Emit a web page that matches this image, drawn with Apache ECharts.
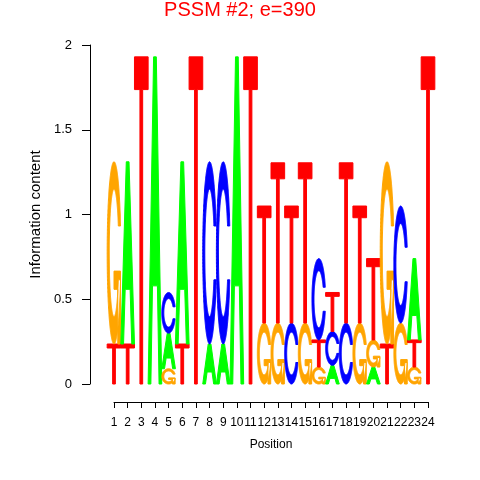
<!DOCTYPE html>
<html><head><meta charset="utf-8">
<script src="https://cdn.jsdelivr.net/npm/echarts@6/dist/echarts.min.js"></script>
<style>html,body{margin:0;padding:0;background:#fff}#c{width:480px;height:480px}</style>
</head><body><div id="c"></div>
<script>
// ---- data ----
const positions = [1,2,3,4,5,6,7,8,9,10,11,12,13,14,15,16,17,18,19,20,21,22,23,24];
const letters = ['A','C','G','T'];
const letterColors = ['#00FF00','#0000FF','#FFA500','#FF0000'];
const heightA = [0,1.075,0,1.93,0.21,1.075,0,0.236,0.236,1.93,0,0,0,0,0,0,0.11,0,0,0.1,0,0,0.48,0];
const heightC = [0,0,0,0,0.24,0,0,1.075,1.075,0,0,0,0,0.36,0,0.48,0.2,0.36,0,0,0,0.69,0,0];
const heightG = [1.075,0,0,0,0.09,0,0,0,0,0,0,0.36,0.36,0,0.36,0.1,0,0,0.36,0.16,1.075,0.36,0.1,0];
const heightT = [0.236,0.236,1.93,0,0,0.236,1.93,0,0,0,1.93,0.69,0.945,0.69,0.945,0.16,0.23,0.945,0.69,0.48,0.236,0,0.16,1.93];
const yTickValues = [0,0.5,1,1.5,2];
const titleText = 'PSSM #2; e=390';
const xName = 'Position';
const yName = 'Information content';

// ---- glyph outlines (unit box, y up) ----
function seq(a,b,n){const r=[];for(let i=0;i<n;i++)r.push(a+(b-a)*i/(n-1));return r;}
function ringC(){
  const a1=seq(0.3+Math.PI/2,Math.PI,100), a2=seq(Math.PI,1.5*Math.PI,100);
  const xl1=a1.map(a=>0.5+0.5*Math.sin(a)), yl1=a1.map(a=>0.5+0.5*Math.cos(a));
  const xl2=a2.map(a=>0.5+0.5*Math.sin(a)), yl2=a2.map(a=>0.5+0.5*Math.cos(a));
  const xl=xl1.concat(xl2), yl=yl1.concat(yl2);
  const x=xl.concat(xl.slice().reverse()), y=yl.concat(yl.slice().reverse().map(v=>1-v));
  const h=Math.max(...yl1);
  let xi1=a1.map(a=>0.5+0.35*Math.sin(a)), yi1=a1.map(a=>0.5+0.35*Math.cos(a));
  const keep=yi1.map(v=>v<=h);
  xi1=xi1.filter((v,i)=>keep[i]); yi1=yi1.filter((v,i)=>keep[i]); yi1[0]=h;
  const xi2=a2.map(a=>0.5+0.35*Math.sin(a)), yi2=a2.map(a=>0.5+0.35*Math.cos(a));
  const xi=xi1.concat(xi2), yi=yi1.concat(yi2);
  const x1=xi.concat(xi.slice().reverse()), y1=yi.concat(yi.slice().reverse().map(v=>1-v));
  const px=x.concat(x1.slice().reverse()), py=y.concat(y1.slice().reverse());
  return {poly:px.map((v,i)=>[v,py[i]]), r1:Math.max(...xl1)};
}
const cInfo=ringC();
const glyphA=[[[0,0],[0.4,1],[0.6,1],[1,0],[0.8,0],[0.68,0.3],[0.32,0.3],[0.2,0]],[[0.36,0.4],[0.5,0.75],[0.64,0.4]]];
const glyphC=[cInfo.poly];
const r1=cInfo.r1;
const glyphG=[cInfo.poly,[[r1,0.4],[0.5,0.4],[0.5,0.3],[r1-0.2,0.3],[r1-0.2,0],[r1,0]]];
const glyphT=[[[0,1],[1,1],[1,0.9],[0.6,0.9],[0.6,0],[0.4,0],[0.4,0.9],[0,0.9]]];
const glyphs=[glyphA,glyphC,glyphG,glyphT];

// ---- stacked items built from the arrays ----
const heights=[heightA,heightC,heightG,heightT];
const items=[];
positions.forEach((p,i)=>{
  const col=[0,1,2,3].map(li=>({li,h:heights[li][i]})).filter(o=>o.h>0).sort((a,b)=>a.h-b.h);
  let base=0;
  col.forEach(o=>{items.push([p,base,o.h,o.li]);base+=o.h;});
});

function renderItem(params, api){
  const pos=api.value(0), base=api.value(1), h=api.value(2), li=api.value(3);
  const p0=api.coord([pos-0.5,base]), p1=api.coord([pos+0.5,base+h]);
  const x0=p0[0], w=p1[0]-p0[0], yb=p0[1], hh=p0[1]-p1[1];
  let d='';
  glyphs[li].forEach(poly=>{
    poly.forEach((pt,k)=>{d+=(k?'L':'M')+(x0+pt[0]*w).toFixed(2)+' '+(yb-pt[1]*hh).toFixed(2);});
    d+='Z';
  });
  const c=letterColors[li];
  return {type:'path',shape:{pathData:d},style:{fill:c,stroke:c,lineWidth:1}};
}

const FONT='"Liberation Sans", Arial, Helvetica, sans-serif';
const chart=echarts.init(document.getElementById('c'),null,{renderer:'canvas'});
chart.setOption({
  animation:false,
  backgroundColor:'#fff',
  title:{text:titleText,left:'center',top:0,padding:0,textStyle:{color:'#FF0000',fontSize:20,fontWeight:'normal',fontFamily:FONT}},
  grid:[
    {left:90,right:52,top:45,bottom:96},
    {left:114,right:52,top:45,bottom:96}
  ],
  xAxis:[
    {gridIndex:0,type:'value',min:0,max:1,show:false},
    {gridIndex:1,type:'value',min:1,max:24,interval:1,position:'bottom',offset:18,
     name:xName,nameLocation:'middle',nameGap:37,nameTextStyle:{color:'#000',fontSize:12,fontFamily:FONT},
     axisLine:{show:true,onZero:false,lineStyle:{color:'#000',width:1}},
     axisTick:{show:true,length:6,lineStyle:{color:'#000'}},
     axisLabel:{show:true,color:'#000',fontSize:12,margin:15,fontFamily:FONT,showMinLabel:true,showMaxLabel:true,hideOverlap:false,interval:0},
     splitLine:{show:false}}
  ],
  yAxis:[
    {gridIndex:0,type:'value',min:0,max:2,interval:0.5,position:'left',
     name:yName,nameLocation:'middle',nameGap:45,nameTextStyle:{color:'#000',fontSize:15,fontFamily:FONT},
     axisLine:{show:true,onZero:false,lineStyle:{color:'#000',width:1}},
     axisTick:{show:true,length:8,lineStyle:{color:'#000'}},
     axisLabel:{color:'#000',fontSize:13,margin:18,fontFamily:FONT,formatter:v=>String(v)},
     splitLine:{show:false}},
    {gridIndex:1,type:'value',min:0,max:2,show:false}
  ],
  series:[{type:'custom',xAxisIndex:1,yAxisIndex:1,clip:false,renderItem:renderItem,encode:{x:0,y:1},data:items}]
});
</script></body></html>
